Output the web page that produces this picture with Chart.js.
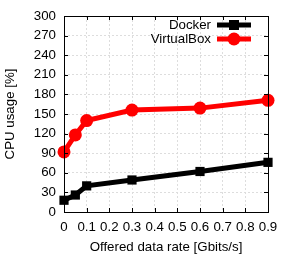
<!DOCTYPE html>
<html lang="en">
<head>
  <meta charset="UTF-8">
  <title>CPU usage</title>
  <style>
    html, body { margin: 0; padding: 0; background: #fff; }
    #wrap { width: 291px; height: 255px; }
  </style>
</head>
<body>
<div id="wrap">
  <canvas id="chart" width="291" height="255"></canvas>
</div>

<script src="https://cdn.jsdelivr.net/npm/chart.js"></script>

<script>
  const rates = [0, 0.05, 0.1, 0.3, 0.6, 0.9];
  const docker = [18, 26, 40, 49, 62, 76];
  const virtualBox = [92, 118, 140, 156, 159, 171];
  const seriesLabels = ['Docker', 'VirtualBox'];

  const font = 'Liberation Sans, Arial, sans-serif';
  const fontSize = 13.3;

  const toPoints = (ys) => rates.map((x, i) => ({ x, y: ys[i] }));

  // gnuplot-like frame with inward ticks
  const frame = {
    id: 'frame',
    afterDatasetsDraw(chart) {
      const { ctx, chartArea: a, scales } = chart;
      ctx.save();
      ctx.strokeStyle = '#000';
      ctx.lineWidth = 1;
      ctx.beginPath();
      scales.x.ticks.forEach((t) => {
        const px = Math.round(scales.x.getPixelForValue(t.value)) + 0.5;
        ctx.moveTo(px, a.bottom); ctx.lineTo(px, a.bottom - 4);
        ctx.moveTo(px, a.top); ctx.lineTo(px, a.top + 4);
      });
      scales.y.ticks.forEach((t) => {
        const py = Math.round(scales.y.getPixelForValue(t.value)) + 0.5;
        ctx.moveTo(a.left, py); ctx.lineTo(a.left + 4, py);
        ctx.moveTo(a.right, py); ctx.lineTo(a.right - 4, py);
      });
      ctx.stroke();
      ctx.strokeRect(Math.round(a.left) + 0.5, Math.round(a.top) + 0.5,
        Math.round(a.right - a.left), Math.round(a.bottom - a.top));
      ctx.restore();
    }
  };

  // legend inside the plot, text left of the sample
  const insideLegend = {
    id: 'insideLegend',
    afterDatasetsDraw(chart) {
      const { ctx, chartArea: a } = chart;
      ctx.save();
      ctx.font = fontSize + 'px ' + font;
      ctx.textAlign = 'right';
      ctx.textBaseline = 'middle';
      chart.data.datasets.forEach((ds, i) => {
        const y = a.top + 9 + i * 14;
        const x1 = a.right - 51, x2 = a.right - 17, cx = (x1 + x2) / 2;
        ctx.fillStyle = '#000';
        ctx.fillText(ds.label, a.right - 57, y);
        ctx.strokeStyle = ds.borderColor;
        ctx.lineWidth = 5;
        ctx.beginPath();
        ctx.moveTo(x1, y); ctx.lineTo(x2, y);
        ctx.stroke();
        ctx.fillStyle = ds.borderColor;
        ctx.beginPath();
        if (ds.pointStyle === 'rect') {
          ctx.rect(cx - 5, y - 5, 10, 10);
        } else {
          ctx.arc(cx, y, 6.5, 0, Math.PI * 2);
        }
        ctx.fill();
      });
      ctx.restore();
    }
  };

  new Chart(document.getElementById('chart'), {
    type: 'line',
    data: {
      datasets: [
        {
          label: seriesLabels[0],
          data: toPoints(docker),
          borderColor: '#000',
          backgroundColor: '#000',
          borderWidth: 5,
          pointStyle: 'rect',
          pointRadius: 6.5,
          pointBorderWidth: 0,
          clip: false
        },
        {
          label: seriesLabels[1],
          data: toPoints(virtualBox),
          borderColor: '#ff0000',
          backgroundColor: '#ff0000',
          borderWidth: 5,
          pointStyle: 'circle',
          pointRadius: 6.5,
          pointBorderWidth: 0,
          clip: false
        }
      ]
    },
    options: {
      responsive: false,
      animation: false,
      layout: { padding: { left: 2, right: 23, top: 16, bottom: 0 } },
      plugins: {
        legend: { display: false },
        tooltip: { enabled: false }
      },
      scales: {
        x: {
          type: 'linear',
          min: 0,
          max: 0.9,
          afterFit: (s) => { s.height = 43; },
          ticks: {
            stepSize: 0.1,
            color: '#000',
            padding: 7,
            font: { family: font, size: fontSize },
            maxRotation: 0,
            callback: (v) => String(Math.round(v * 10) / 10)
          },
          grid: { color: '#dddddd', tickLength: 0, drawTicks: false },
          border: { display: false, dash: [2, 2] },
          title: {
            display: true,
            text: 'Offered data rate [Gbits/s]',
            color: '#000',
            padding: { top: 3, bottom: 0 },
            font: { family: font, size: fontSize }
          }
        },
        y: {
          min: 0,
          max: 300,
          afterFit: (s) => { s.width = 62; },
          ticks: {
            stepSize: 30,
            color: '#000',
            padding: 8,
            font: { family: font, size: fontSize }
          },
          grid: { color: '#dddddd', tickLength: 0, drawTicks: false },
          border: { display: false, dash: [2, 2] },
          title: {
            display: true,
            text: 'CPU usage [%]',
            color: '#000',
            padding: { top: 0, bottom: 4 },
            font: { family: font, size: fontSize }
          }
        }
      }
    },
    plugins: [frame, insideLegend]
  });
</script>
</body>
</html>
